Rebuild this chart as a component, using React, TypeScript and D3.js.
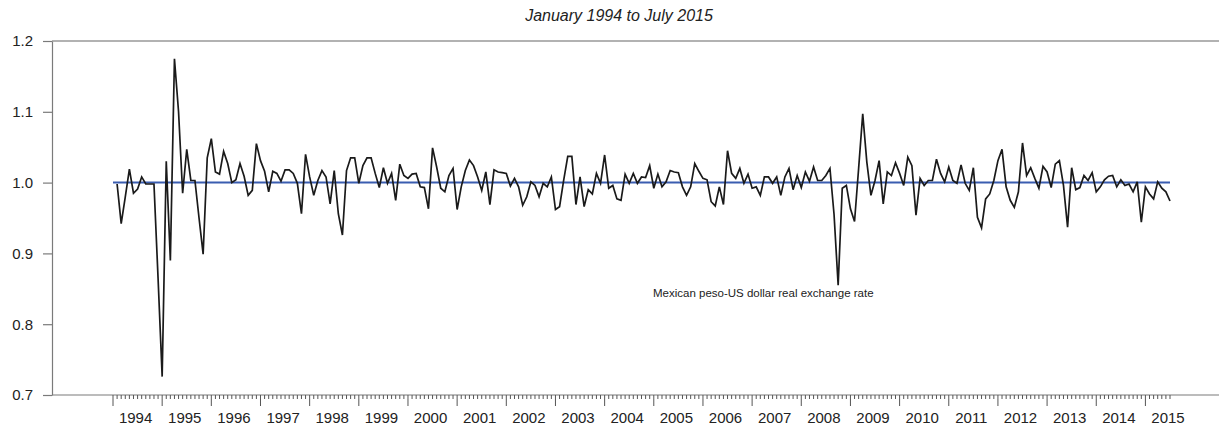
import * as React from "react";
import * as d3 from "d3";

// month-on-month values, Feb 1994 .. Jul 2015 (one row per year)
const rer1994 = [0.998, 0.942, 0.98, 1.019, 0.985, 0.991, 1.008, 0.998, 0.998, 0.998, 0.865];
const rer1995 = [0.726, 1.03, 0.89, 1.175, 1.1, 0.985, 1.047, 1.003, 1.003, 0.95, 0.899, 1.035];
const rer1996 = [1.062, 1.015, 1.012, 1.044, 1.027, 1.0, 1.004, 1.027, 1.009, 0.982, 0.989, 1.055];
const rer1997 = [1.031, 1.016, 0.987, 1.016, 1.013, 1.002, 1.018, 1.018, 1.013, 0.999, 0.956, 1.04];
const rer1998 = [1.008, 0.982, 1.003, 1.017, 1.008, 0.97, 1.017, 0.956, 0.926, 1.017, 1.035, 1.035];
const rer1999 = [0.999, 1.024, 1.035, 1.035, 1.013, 0.993, 1.021, 0.999, 1.013, 0.975, 1.026, 1.01];
const rer2000 = [1.006, 1.012, 1.013, 0.994, 0.993, 0.963, 1.049, 1.022, 0.992, 0.987, 1.01, 1.02];
const rer2001 = [0.962, 0.994, 1.017, 1.032, 1.024, 1.008, 0.989, 1.015, 0.969, 1.018, 1.015, 1.014];
const rer2002 = [1.013, 0.995, 1.006, 0.994, 0.968, 0.98, 1.001, 0.996, 0.98, 0.999, 0.994, 1.008];
const rer2003 = [0.962, 0.966, 1.003, 1.037, 1.037, 0.969, 1.008, 0.966, 0.99, 0.984, 1.013, 0.999];
const rer2004 = [1.039, 0.992, 0.996, 0.977, 0.975, 1.012, 0.999, 1.013, 0.999, 1.008, 1.007, 1.024];
const rer2005 = [0.992, 1.012, 0.994, 1.001, 1.017, 1.015, 1.014, 0.994, 0.982, 0.994, 1.027, 1.016];
const rer2006 = [1.006, 1.004, 0.973, 0.967, 0.994, 0.969, 1.045, 1.013, 1.006, 1.02, 0.999, 1.012];
const rer2007 = [0.992, 0.994, 0.982, 1.008, 1.008, 0.999, 1.008, 0.982, 1.008, 1.02, 0.99, 1.01];
const rer2008 = [0.993, 1.015, 1.002, 1.022, 1.003, 1.003, 1.01, 1.02, 0.955, 0.855, 0.992, 0.996];
const rer2009 = [0.963, 0.945, 1.02, 1.097, 1.029, 0.982, 1.003, 1.031, 0.97, 1.015, 1.01, 1.028];
const rer2010 = [1.013, 0.996, 1.036, 1.024, 0.954, 1.006, 0.996, 1.003, 1.003, 1.033, 1.013, 1.001];
const rer2011 = [1.022, 1.003, 0.999, 1.025, 0.999, 0.989, 1.021, 0.951, 0.936, 0.977, 0.984, 1.003];
const rer2012 = [1.031, 1.047, 0.994, 0.975, 0.965, 0.987, 1.056, 1.01, 1.021, 1.006, 0.992, 1.023];
const rer2013 = [1.015, 0.993, 1.026, 1.031, 0.996, 0.937, 1.021, 0.99, 0.993, 1.01, 1.003, 1.014];
const rer2014 = [0.987, 0.994, 1.004, 1.009, 1.01, 0.994, 1.004, 0.996, 0.998, 0.987, 1.001, 0.944];
const rer2015 = [0.994, 0.984, 0.977, 1.001, 0.992, 0.987, 0.974];

const rerValues = [
  ...rer1994, ...rer1995, ...rer1996, ...rer1997, ...rer1998, ...rer1999,
  ...rer2000, ...rer2001, ...rer2002, ...rer2003, ...rer2004, ...rer2005,
  ...rer2006, ...rer2007, ...rer2008, ...rer2009, ...rer2010, ...rer2011,
  ...rer2012, ...rer2013, ...rer2014, ...rer2015,
];

const yearLabels = ["1994", "1995", "1996", "1997", "1998", "1999", "2000", "2001", "2002", "2003", "2004",
  "2005", "2006", "2007", "2008", "2009", "2010", "2011", "2012", "2013", "2014", "2015"];
const yTicks = [0.7, 0.8, 0.9, 1.0, 1.1, 1.2];
const referenceLevel = 1.0;
const monthCount = 258; // Jan 1994 .. Jul 2015 as month steps
const title = "January 1994 to July 2015";
const seriesLabel = "Mexican peso-US dollar real exchange rate";

const App: React.FunctionComponent = () => {
  const svgRef = React.useRef<SVGSVGElement>(null);
  const width = 1219;
  const height = 425;

  React.useEffect(() => {
    const svgElement = svgRef.current;
    if (!svgElement) return;
    while (svgElement.firstChild) svgElement.removeChild(svgElement.firstChild);

    const svg = d3.select(svgElement);
    const font = '"Liberation Sans", Arial, sans-serif';
    const axisColor = "#7a7a7a";
    const left = 52;
    const top = 41;
    const bottom = 395;

    const x = d3.scaleLinear().domain([0, monthCount]).range([113, 1170]);
    const y = d3.scaleLinear().domain([0.7, 1.2]).range([bottom, top]);

    // frame: top line + bottom baseline
    svg.append("line")
      .attr("x1", left).attr("x2", width).attr("y1", top).attr("y2", top)
      .attr("stroke", "#666").attr("stroke-width", 1.2);
    svg.append("line")
      .attr("x1", left).attr("x2", width).attr("y1", bottom).attr("y2", bottom)
      .attr("stroke", axisColor).attr("stroke-width", 1.2);

    // Y axis
    const yAxis = d3.axisLeft(y)
      .tickValues(yTicks)
      .tickSize(9)
      .tickSizeOuter(0)
      .tickPadding(10)
      .tickFormat(d => d3.format(".1f")(d as number));

    const gy = svg.append("g")
      .attr("transform", `translate(${left},0)`)
      .call(yAxis);
    gy.select(".domain").attr("stroke", axisColor).attr("stroke-width", 1.2);
    gy.selectAll(".tick line").attr("stroke", axisColor).attr("stroke-width", 1.2);
    gy.selectAll(".tick text")
      .attr("font-family", font)
      .attr("font-size", 15)
      .attr("fill", "#222");

    // X axis: monthly minor ticks, yearly major ticks
    const months = d3.range(0, monthCount + 1);
    svg.append("g")
      .selectAll("line")
      .data(months)
      .enter()
      .append("line")
      .attr("x1", d => x(d))
      .attr("x2", d => x(d))
      .attr("y1", bottom)
      .attr("y2", d => (d % 12 === 0 ? bottom + 11 : bottom + 4))
      .attr("stroke", "#555")
      .attr("stroke-width", 1);

    svg.append("g")
      .selectAll("text")
      .data(yearLabels)
      .enter()
      .append("text")
      .attr("x", (_d, i) => x(i * 12 + 6) - 2)
      .attr("y", 423)
      .attr("text-anchor", "middle")
      .attr("font-family", font)
      .attr("font-size", 15)
      .attr("fill", "#222")
      .text(d => d);

    // reference level
    svg.append("line")
      .attr("x1", x(0)).attr("x2", x(monthCount))
      .attr("y1", y(referenceLevel)).attr("y2", y(referenceLevel))
      .attr("stroke", "#3a5db0")
      .attr("stroke-width", 2);

    // series
    const line = d3.line<number>()
      .x((_d, i) => x(i + 1))
      .y(d => y(d));

    svg.append("path")
      .datum(rerValues)
      .attr("d", line)
      .attr("fill", "none")
      .attr("stroke", "#1a1a1a")
      .attr("stroke-width", 1.7)
      .attr("stroke-linejoin", "miter");

    svg.append("text")
      .attr("x", 619)
      .attr("y", 21)
      .attr("text-anchor", "middle")
      .attr("font-family", font)
      .attr("font-style", "italic")
      .attr("font-size", 16)
      .attr("fill", "#222")
      .text(title);

    svg.append("text")
      .attr("x", 653)
      .attr("y", 297)
      .attr("font-family", font)
      .attr("font-size", 11.5)
      .attr("fill", "#222")
      .text(seriesLabel);

    return () => {
      while (svgElement.firstChild) svgElement.removeChild(svgElement.firstChild);
    };
  }, []);

  return (
    <svg
      ref={svgRef}
      width={width}
      height={height}
      style={{ position: "absolute", left: 0, top: 0, background: "#fff" }}
    />
  );
};

export default App;
